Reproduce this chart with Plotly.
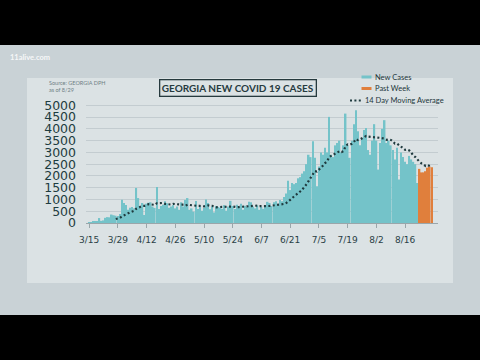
import pandas as pd
import plotly.graph_objects as go

start_date = "2020-03-15"
new_cases = [
    30, 40, 60, 80, 70, 210, 90, 110, 220, 250, 240, 360, 330, 310,
    300, 380, 990, 850, 760, 560, 650, 680, 620, 1490, 1060, 650, 850, 340,
    820, 860, 880, 700, 640, 1530, 600, 720, 780, 920, 840, 650, 700, 760,
    620, 700, 560, 880, 700, 980, 1060, 560, 620, 480, 930, 600, 700, 520,
    640, 1000, 850, 580, 700, 450, 720, 680, 640, 600, 760, 520, 700, 940,
    720, 600, 780, 690, 820, 560, 730, 680, 900, 880, 700, 620, 750, 560,
    680, 600, 740, 900, 850, 720, 880, 920, 750, 980, 920, 1100, 1250, 1800,
    1400, 1700, 1650, 1700, 1900, 1950, 2100, 2200, 2500, 2900, 2800, 3470, 2770, 1560,
    2400, 3000, 2900, 3200, 3000, 4510, 2900, 2800, 3300, 3400, 3500, 3000, 3300, 4650,
    3300, 2770, 3500, 4200, 4790, 3900, 3300, 3600, 3950, 4040, 3100, 2900, 3500, 4200,
    3500, 2270, 3400, 4000, 4370, 3400, 3500, 3300, 3100, 2700, 3200, 1850, 3000, 2800,
    2600, 2500, 2850, 2700, 2600, 2500, 1700, 2300, 2150, 2150, 2200, 2350, 2400, 2370,
]
past_week_days = 7
x_tick_labels = ["3/15", "3/29", "4/12", "4/26", "5/10", "5/24", "6/7",
                 "6/21", "7/5", "7/19", "8/2", "8/16"]
y_ticks = [0, 500, 1000, 1500, 2000, 2500, 3000, 3500, 4000, 4500, 5000]

dates = pd.date_range(start_date, periods=len(new_cases), freq="D")
s = pd.Series(new_cases, index=dates)
ma = s.rolling(14).mean()

teal = "#74c3c9"
orange = "#e07f3c"
dark = "#1f3a3e"

n_old = len(new_cases) - past_week_days
fig = go.Figure()
fig.add_trace(go.Bar(x=dates[:n_old], y=new_cases[:n_old], marker=dict(color=teal, line=dict(width=0)),
                     name="New Cases", showlegend=False))
fig.add_trace(go.Bar(x=dates[n_old:], y=new_cases[n_old:], marker=dict(color=orange, line=dict(width=0)),
                     name="Past Week", showlegend=False))
fig.add_trace(go.Scatter(x=ma.index, y=ma.values, mode="lines",
                         line=dict(color=dark, width=2.2, dash="2px,2.4px"),
                         name="14 Day Moving Average", showlegend=False))

tick_dates = [pd.Timestamp(f"2020-{t.split('/')[0]}-{t.split('/')[1]}") for t in x_tick_labels]

# plot area: x pixels 86..438, y pixels 103..223
def px(X):
    return (X - 86) / 352.0

def py(Y):
    return (223 - Y) / 120.0

shapes = [
    dict(type="rect", xref="paper", yref="paper", x0=px(0), x1=px(480), y0=py(315), y1=py(45),
         fillcolor="#c9d2d6", line=dict(width=0), layer="below"),
    dict(type="rect", xref="paper", yref="paper", x0=px(27), x1=px(453), y0=py(283), y1=py(78),
         fillcolor="#dbe2e4", line=dict(width=0), layer="below"),
    # legend swatches
    dict(type="rect", xref="paper", yref="paper", x0=px(361.5), x1=px(371.5), y0=py(78.5), y1=py(75.5),
         fillcolor=teal, line=dict(width=0)),
    dict(type="rect", xref="paper", yref="paper", x0=px(361.5), x1=px(371.5), y0=py(90), y1=py(87),
         fillcolor=orange, line=dict(width=0)),
    dict(type="line", xref="paper", yref="paper", x0=px(350), x1=px(361), y0=py(100.5), y1=py(100.5),
         line=dict(color=dark, width=2, dash="2px,2.4px")),
]

annotations = [
    dict(text="GEORGIA NEW COVID 19 CASES", xref="paper", yref="paper", x=px(237.5), y=py(88),
         xanchor="center", yanchor="middle", showarrow=False,
         font=dict(family="Lato", size=10, color="#263a3e", weight="bold"),
         bordercolor="#263a3e", borderwidth=1.3, borderpad=1.5),
    dict(text="Source: GEORGIA DPH<br>as of 8/29", xref="paper", yref="paper", x=px(47), y=py(78),
         xanchor="left", yanchor="top", showarrow=False, align="left",
         font=dict(family="Lato", size=5.5, color="#6f7f85")),
    dict(text="11alive.com", xref="paper", yref="paper", x=px(8), y=py(57),
         xanchor="left", yanchor="middle", showarrow=False,
         font=dict(family="Lato", size=7.5, color="rgba(255,255,255,0.85)", weight="bold")),
    dict(text="New Cases", xref="paper", yref="paper", x=px(372.5), y=py(77),
         xanchor="left", yanchor="middle", showarrow=False,
         font=dict(family="Lato", size=7.5, color="#22363a")),
    dict(text="Past Week", xref="paper", yref="paper", x=px(372.5), y=py(88.7),
         xanchor="left", yanchor="middle", showarrow=False,
         font=dict(family="Lato", size=7.5, color="#22363a")),
    dict(text="14 Day Moving Average", xref="paper", yref="paper", x=px(362.5), y=py(100.5),
         xanchor="left", yanchor="middle", showarrow=False,
         font=dict(family="Lato", size=7.5, color="#22363a")),
]

fig.update_layout(
    width=480, height=360,
    margin=dict(l=86, r=42, t=103, b=137, pad=0),
    paper_bgcolor="#000000",
    plot_bgcolor="rgba(0,0,0,0)",
    barmode="overlay",
    bargap=0.22,
    shapes=shapes,
    annotations=annotations,
    showlegend=False,
    xaxis=dict(
        type="date",
        range=[pd.Timestamp("2020-03-13 12:00"), pd.Timestamp("2020-09-01 00:00")],
        tickvals=tick_dates, ticktext=x_tick_labels,
        showgrid=False, zeroline=False,
        showline=True, linecolor="#9aa6aa", linewidth=1,
        ticks="outside", ticklen=4, tickcolor="#9aa6aa", tickwidth=1,
        ticklabelstandoff=4,
        tickfont=dict(family="DejaVu Sans", size=9, color="#2a3f44"),
    ),
    yaxis=dict(
        range=[0, 5100],
        tickvals=y_ticks,
        showgrid=True, gridcolor="#c3ccd0", gridwidth=1,
        zeroline=False, showline=False,
        ticklabelstandoff=9,
        tickfont=dict(family="DejaVu Sans", size=12.5, color="#1d3c40"),
    ),
)

fig.write_html("out.html")
